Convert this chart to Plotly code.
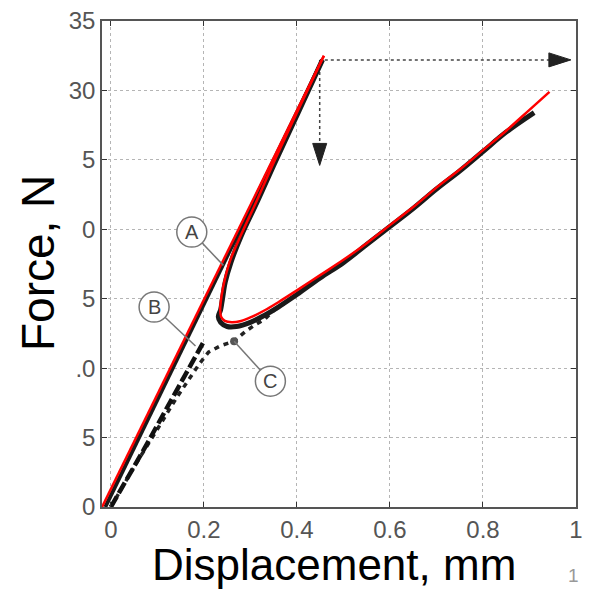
import plotly.graph_objects as go

# ---------------- data ----------------
load_red_x = [-0.019, 0.458]
load_red_y = [0.0, 32.5]

unload_red_x = [0.458, 0.40, 0.35, 0.313, 0.28, 0.257, 0.245, 0.238, 0.235, 0.237, 0.245, 0.26,
                0.28, 0.30, 0.33, 0.36, 0.40, 0.45, 0.50, 0.55, 0.60, 0.65, 0.70, 0.75, 0.80,
                0.85, 0.90, 0.943]
unload_red_y = [32.5, 28.4, 24.8, 22.0, 19.6, 17.8, 16.4, 15.2, 14.2, 13.7, 13.4, 13.3,
                13.4, 13.65, 14.15, 14.75, 15.6, 16.7, 17.8, 19.0, 20.3, 21.6, 23.0, 24.3, 25.7,
                27.1, 28.6, 29.9]

load_blk_x = [-0.012, 0.455]
load_blk_y = [0.0, 32.2]

unload_blk_x = [0.455, 0.40, 0.35, 0.315, 0.28, 0.258, 0.246, 0.240, 0.236, 0.231, 0.236, 0.25,
                0.27, 0.30, 0.33, 0.36, 0.40, 0.45, 0.50, 0.55, 0.60, 0.65, 0.70, 0.75, 0.80,
                0.85, 0.91]
unload_blk_y = [32.2, 28.2, 24.6, 22.0, 19.5, 17.6, 16.2, 15.0, 14.2, 13.7, 13.3, 13.0,
                13.0, 13.3, 13.8, 14.4, 15.3, 16.5, 17.6, 18.9, 20.2, 21.5, 22.9, 24.2, 25.6,
                27.0, 28.4]

b_x = [0.0, 0.072, 0.153, 0.199]
b_y = [0.0, 4.2, 9.1, 11.87]

c_x = [0.0, 0.05, 0.10, 0.142, 0.19, 0.21, 0.235, 0.265, 0.288, 0.309, 0.33, 0.352, 0.38]
c_y = [0.0, 2.9, 5.6, 7.9, 10.3, 11.15, 11.6, 11.94, 12.6, 13.1, 13.5, 14.2, 14.8]

c_marker = (0.265, 11.94)

x_ticks = [0, 0.2, 0.4, 0.6, 0.8, 1.0]
x_ticktext = ["0", "0.2", "0.4", "0.6", "0.8", "1"]
y_ticks = [0, 5, 10, 15, 20, 25, 30, 35]
y_ticktext = ["0", "5", ".0", "5", "0", "5", "30", "35"]

# label circles (centre in data coords) and leader targets
labels = ["A", "B", "C"]
label_xy = [(0.174, 19.8), (0.093, 14.4), (0.343, 9.06)]
leader_to = [(0.242, 17.4), (0.182, 11.6), (0.265, 11.94)]

# arrows
arrow_y = 32.2
arrow_vx = 0.449
arrow_v_tip = 24.6
arrow_h_start = 0.46
arrow_h_tip = 0.989

fig = go.Figure()

# dotted arrow shafts
fig.add_trace(go.Scatter(x=[arrow_vx, arrow_vx], y=[arrow_y, arrow_v_tip + 1.5], mode="lines",
                         line=dict(color="#444", width=1.5, dash="3px,3px"), hoverinfo="skip"))
fig.add_trace(go.Scatter(x=[arrow_h_start, arrow_h_tip - 0.04], y=[arrow_y, arrow_y], mode="lines",
                         line=dict(color="#444", width=1.5, dash="3px,3px"), hoverinfo="skip"))

# C (dotted) and B (dashed)
fig.add_trace(go.Scatter(x=c_x, y=c_y, mode="lines",
                         line=dict(color="#222", width=3.5, dash="5px,5px"), hoverinfo="skip"))
fig.add_trace(go.Scatter(x=b_x, y=b_y, mode="lines",
                         line=dict(color="#111", width=4.5, dash="12px,4px"), hoverinfo="skip"))
fig.add_trace(go.Scatter(x=[c_marker[0]], y=[c_marker[1]], mode="markers",
                         marker=dict(color="#555", size=8), hoverinfo="skip"))

# black experimental curve (A)
fig.add_trace(go.Scatter(x=load_blk_x, y=load_blk_y, mode="lines",
                         line=dict(color="#1a1a1a", width=4), hoverinfo="skip"))
fig.add_trace(go.Scatter(x=unload_blk_x, y=unload_blk_y, mode="lines", line_shape="spline",
                         line=dict(color="#1a1a1a", width=5), hoverinfo="skip"))

# red model curve
fig.add_trace(go.Scatter(x=load_red_x, y=load_red_y, mode="lines",
                         line=dict(color="#ff0000", width=2.5), hoverinfo="skip"))
fig.add_trace(go.Scatter(x=unload_red_x, y=unload_red_y, mode="lines", line_shape="spline",
                         line=dict(color="#ff0000", width=2.5), hoverinfo="skip"))

shapes = []
annotations = []
for lab, (cx, cy), (tx, ty) in zip(labels, label_xy, leader_to):
    shapes.append(dict(type="line", xref="x", yref="y", x0=cx, y0=cy, x1=tx, y1=ty,
                       line=dict(color="#777", width=1.5), layer="above"))
    shapes.append(dict(type="circle", xref="x", yref="y", xsizemode="pixel", ysizemode="pixel",
                       xanchor=cx, yanchor=cy, x0=-15, x1=15, y0=-15, y1=15,
                       line=dict(color="#777", width=1.5), fillcolor="white", layer="above"))
    annotations.append(dict(x=cx, y=cy, xref="x", yref="y", text=lab, showarrow=False,
                            font=dict(family="Liberation Sans", size=20, color="#444")))

# arrowheads (pixel-sized paths anchored at tips)
shapes.append(dict(type="path", xref="x", yref="y", xsizemode="pixel", ysizemode="pixel",
                   xanchor=arrow_vx, yanchor=arrow_v_tip, path="M 0 0 L -7 22 L 7 22 Z",
                   fillcolor="#222", line=dict(color="#222", width=1), layer="above"))
shapes.append(dict(type="path", xref="x", yref="y", xsizemode="pixel", ysizemode="pixel",
                   xanchor=arrow_h_tip, yanchor=arrow_y, path="M 0 0 L -22 7 L -22 -7 Z",
                   fillcolor="#222", line=dict(color="#222", width=1), layer="above"))

annotations.append(dict(x=0.489, y=-0.118, xref="paper", yref="paper", text="Displacement, mm",
                        showarrow=False, xanchor="center", yanchor="middle",
                        font=dict(family="Liberation Sans", size=44, color="black")))
annotations.append(dict(x=-0.135, y=0.502, xref="paper", yref="paper", text="Force, N",
                        showarrow=False, xanchor="center", yanchor="middle", textangle=-90,
                        font=dict(family="Liberation Sans", size=46, color="black")))
annotations.append(dict(x=0.994, y=-0.14, xref="paper", yref="paper", text="1",
                        showarrow=False, xanchor="center", yanchor="middle",
                        font=dict(family="Liberation Sans", size=19, color="#999")))

axis_common = dict(showline=True, linecolor="#555", linewidth=1.5, mirror="ticks",
                   ticks="inside", ticklen=5, tickcolor="#333", tickwidth=1.2,
                   showgrid=True, gridcolor="#b5b5b5", gridwidth=1.2, griddash="dot",
                   zeroline=False,
                   tickfont=dict(family="Liberation Sans", size=24, color="#555"))

fig.update_layout(
    width=590, height=590,
    margin=dict(l=102, r=7, t=20, b=83),
    paper_bgcolor="white", plot_bgcolor="white",
    showlegend=False,
    xaxis=dict(range=[-0.019, 1.0], tickvals=x_ticks, ticktext=x_ticktext, **axis_common),
    yaxis=dict(range=[0, 35], tickvals=y_ticks, ticktext=y_ticktext, **axis_common),
    shapes=shapes, annotations=annotations,
)

fig.write_html("out.html")
